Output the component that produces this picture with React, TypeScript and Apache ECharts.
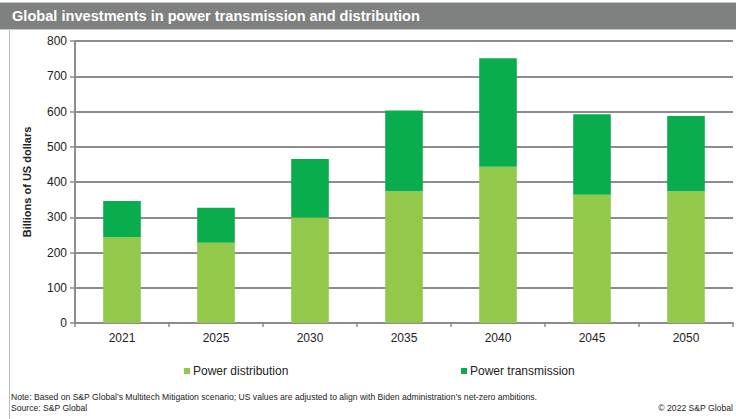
import React, { useEffect, useRef } from "react";
import * as echarts from "echarts";

const categories = ["2021", "2025", "2030", "2035", "2040", "2045", "2050"];
const distribution = [243, 228, 299, 374, 443, 364, 374];
const transmission = [103, 99, 166, 229, 308, 228, 213];
const yTicks = { min: 0, max: 800, interval: 100 };

const titleText = "Global investments in power transmission and distribution";
const noteText =
  "Note: Based on S&P Global\u2019s Multitech Mitigation scenario; US values are adjusted to align with Biden administration\u2019s net-zero ambitions.";
const sourceText = "Source: S&P Global";
const copyrightText = "\u00a9 2022 S&P Global";

const FONT = "'Liberation Sans', Arial, sans-serif";

export default function App() {
  const ref = useRef<HTMLDivElement>(null);
  useEffect(() => {
    if (!ref.current) return;
    const chart = echarts.init(ref.current, null, { renderer: "svg" });
    chart.setOption({
      animation: false,
      backgroundColor: "#ffffff",
      textStyle: { fontFamily: FONT },
      grid: { left: 75, right: 3, top: 41, bottom: 96, containLabel: false },
      legend: [
        {
          data: ["Power distribution"],
          left: 179,
          top: 360,
          itemWidth: 6,
          itemHeight: 6,
          icon: "rect",
          textStyle: { fontSize: 12, color: "#222", fontFamily: FONT, padding: [0, 0, 0, -2] },
        },
        {
          data: ["Power transmission"],
          left: 456,
          top: 360,
          itemWidth: 6,
          itemHeight: 6,
          icon: "rect",
          textStyle: { fontSize: 12, color: "#222", fontFamily: FONT, padding: [0, 0, 0, -2] },
        },
      ],
      xAxis: {
        type: "category",
        data: categories,
        axisLine: { lineStyle: { color: "#8c8c8c", width: 2 } },
        axisTick: { show: true, length: 4, alignWithLabel: false, lineStyle: { color: "#8c8c8c", width: 1.5 } },
        axisLabel: { fontSize: 12, color: "#222", margin: 9, fontFamily: FONT },
      },
      yAxis: {
        type: "value",
        min: yTicks.min,
        max: yTicks.max,
        interval: yTicks.interval,
        name: "Billions of US dollars",
        nameLocation: "middle",
        nameGap: 43,
        nameTextStyle: { fontSize: 11, fontWeight: "bold", color: "#222", fontFamily: FONT },
        axisLine: { show: true, lineStyle: { color: "#8c8c8c", width: 2 } },
        axisTick: { show: true, length: 5, inside: false, lineStyle: { color: "#8c8c8c", width: 1.5 } },
        axisLabel: { fontSize: 12, color: "#222", margin: 8, fontFamily: FONT },
        splitLine: { show: true, lineStyle: { color: "#8c8c8c", width: 2 } },
      },
      series: [
        {
          name: "Power distribution",
          type: "bar",
          stack: "total",
          data: distribution,
          barWidth: "40%",
          itemStyle: { color: "#92c94a" },
        },
        {
          name: "Power transmission",
          type: "bar",
          stack: "total",
          data: transmission,
          barWidth: "40%",
          itemStyle: { color: "#0aad4e" },
        },
      ],
      graphic: [
        { type: "rect", shape: { x: 0, y: 2, width: 736, height: 1 }, style: { fill: "#c8c8c8" }, silent: true },
        { type: "rect", shape: { x: 0, y: 3, width: 736, height: 26 }, style: { fill: "#7f8180" }, silent: true },
        { type: "rect", shape: { x: 0, y: 29, width: 736, height: 1 }, style: { fill: "#c8c8c8" }, silent: true },
        {
          type: "text",
          left: 12,
          top: 8,
          style: { text: titleText, fill: "#ffffff", font: `bold 14.6px ${FONT}` },
        },
        { type: "rect", shape: { x: 9, y: 30, width: 1, height: 389 }, style: { fill: "#bdbdbd" }, silent: true },
        {
          type: "text",
          left: 11,
          top: 392,
          style: { text: noteText, fill: "#222", font: `8.6px ${FONT}` },
        },
        {
          type: "text",
          left: 11,
          top: 403,
          style: { text: sourceText, fill: "#222", font: `8.6px ${FONT}` },
        },
        {
          type: "text",
          right: 3,
          top: 403,
          style: { text: copyrightText, fill: "#222", font: `8.6px ${FONT}` },
        },
      ],
    });
    return () => chart.dispose();
  }, []);
  return (
    <div
      ref={ref}
      style={{ position: "fixed", left: 0, top: 0, width: 736, height: 419 }}
    />
  );
}
